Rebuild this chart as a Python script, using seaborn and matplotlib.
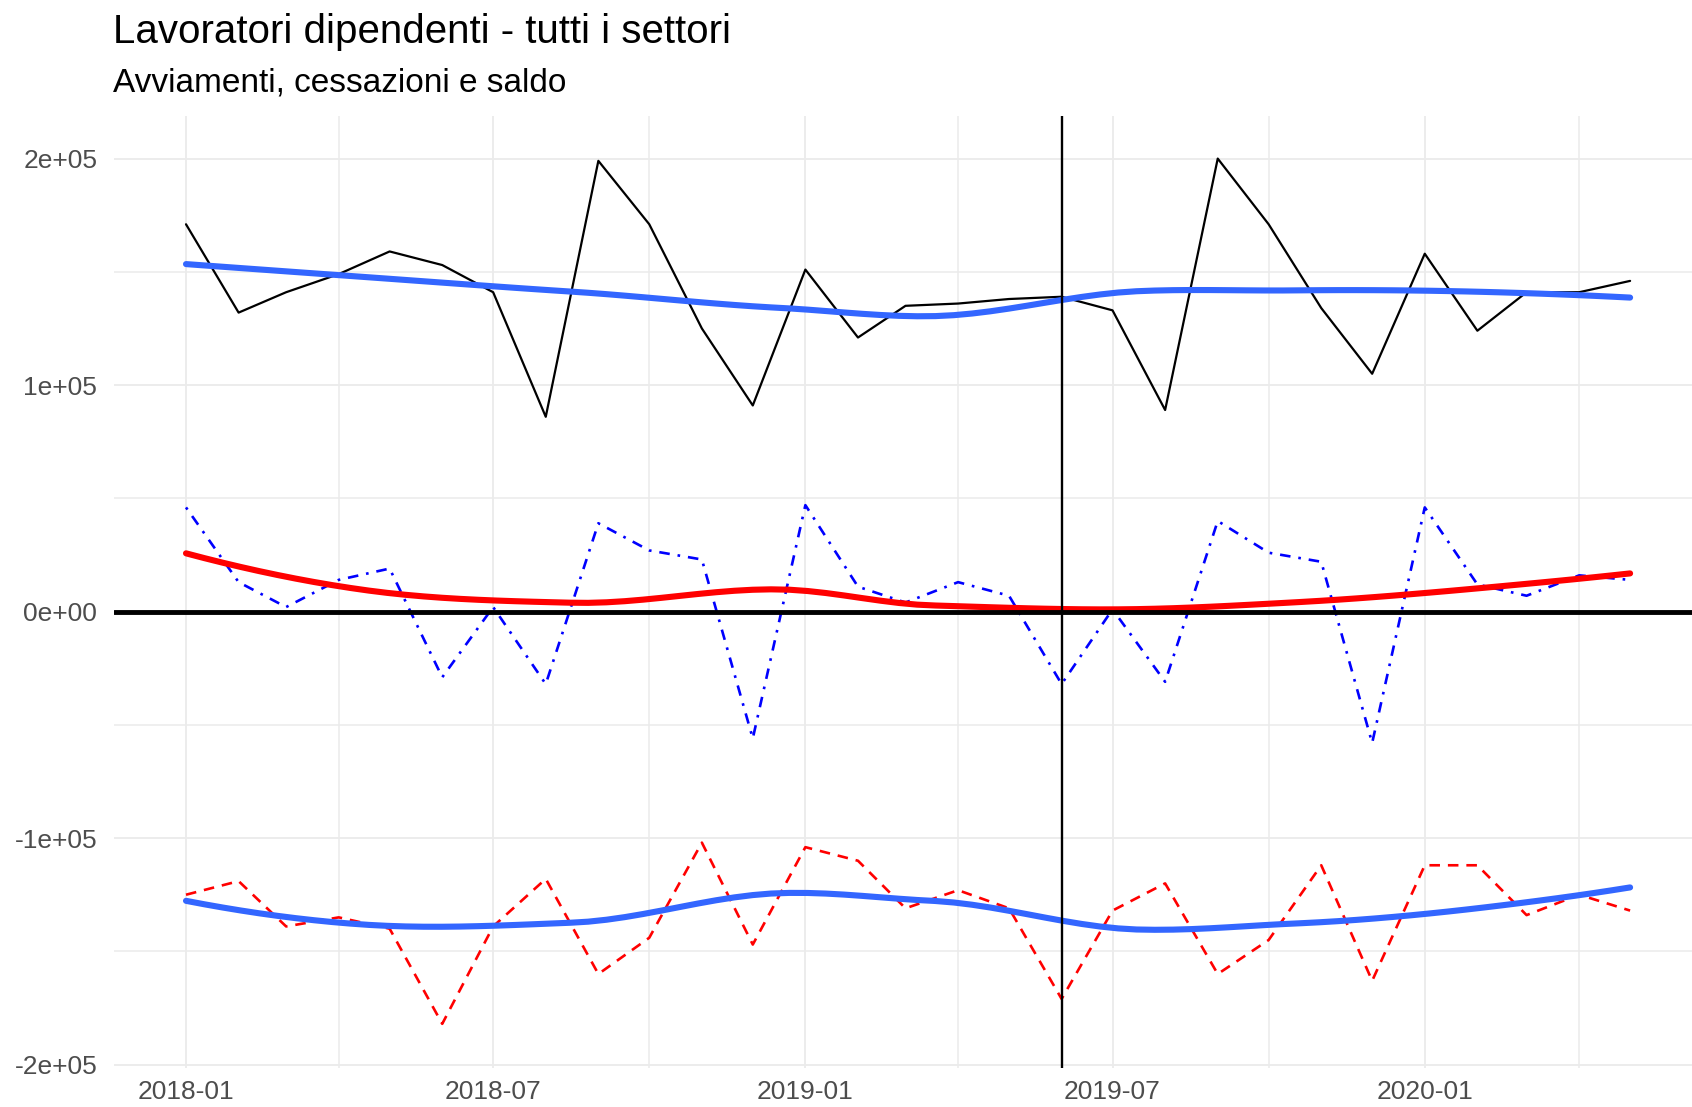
import numpy as np
import pandas as pd
import matplotlib
matplotlib.use("Agg")
import matplotlib.pyplot as plt
import matplotlib.dates as mdates
import matplotlib.ticker as mticker
import seaborn as sns

# monthly data, 2018-01 .. 2020-05
months = pd.date_range("2018-01-01", "2020-05-01", freq="MS")
avviamenti = [171, 132, 141, 149, 159, 153, 141, 86, 199, 171, 125, 91, 151, 121, 135,
              136, 138, 139, 133, 89, 200, 171, 134, 105, 158, 124, 141, 141, 146]
cessazioni = [-125, -119, -139, -135, -140, -182, -139, -118, -160, -144, -102, -147, -104, -110, -131,
              -123, -131, -171, -132, -120, -160, -145, -112, -163, -112, -112, -134, -125, -132]
avviamenti = np.array(avviamenti) * 1000.0
cessazioni = np.array(cessazioni) * 1000.0
saldo = avviamenti + cessazioni
cutoff = pd.Timestamp("2019-06-01")

title = "Lavoratori dipendenti - tutti i settori"
subtitle = "Avviamenti, cessazioni e saldo"


def local_fit(x, y, x0, q):
    # local quadratic fit with tricube weights, returns value and slope at x0
    d = np.abs(x - x0)
    h = np.sort(d)[q - 1]
    w = np.clip(1 - (d / h) ** 3, 0, None) ** 3
    X = np.vstack([np.ones(len(x)), x - x0, (x - x0) ** 2]).T
    sw = np.sqrt(w)
    beta = np.linalg.lstsq(X * sw[:, None], y * sw, rcond=None)[0]
    return beta[0], beta[1]


def loess(x, y, xnew, span=0.75, cell=0.2):
    # R-style loess: fit at kd-tree vertices, cubic hermite in between
    n = len(x)
    q = int(np.floor(n * span))
    fc = int(np.floor(n * span * cell))
    xs = np.sort(x)
    mu = 0.005 * (xs[-1] - xs[0])
    verts = {xs[0] - mu, xs[-1] + mu}

    def split(l, u):
        if u - l + 1 <= fc:
            return
        m = (l + u + 2) // 2 - 1
        verts.add((xs[m] + xs[m + 1]) / 2)
        split(l, m)
        split(m + 1, u)

    split(0, n - 1)
    verts = np.array(sorted(verts))
    vals = np.array([local_fit(x, y, v, q) for v in verts])
    out = []
    for x0 in xnew:
        k = min(np.searchsorted(verts, x0, side="right") - 1, len(verts) - 2)
        h = verts[k + 1] - verts[k]
        t = (x0 - verts[k]) / h
        h00 = 2 * t**3 - 3 * t**2 + 1
        h10 = t**3 - 2 * t**2 + t
        h01 = -2 * t**3 + 3 * t**2
        h11 = t**3 - t**2
        out.append(h00 * vals[k, 0] + h10 * h * vals[k, 1]
                   + h01 * vals[k + 1, 0] + h11 * h * vals[k + 1, 1])
    return np.array(out)


days = ((months - months[0]).days).values.astype(float)
grid_days = np.linspace(days.min(), days.max(), 80)
grid_dates = months[0] + pd.to_timedelta(grid_days, unit="D")

df = pd.DataFrame({"mese": months, "avviamenti": avviamenti,
                   "cessazioni": cessazioni, "saldo": saldo})
smooth = pd.DataFrame({"mese": grid_dates,
                       "avviamenti": loess(days, avviamenti, grid_days),
                       "cessazioni": loess(days, cessazioni, grid_days),
                       "saldo": loess(days, saldo, grid_days)})

sns.set_theme(style="whitegrid")
plt.rcParams["font.family"] = ["Liberation Sans", "DejaVu Sans"]

fig = plt.figure(figsize=(16.92, 11.07), dpi=100)
ax = fig.add_axes([113.8 / 1692, 1 - 1068 / 1107, 1588.5 / 1692, (1068 - 116) / 1107])

sns.lineplot(data=df, x="mese", y="avviamenti", color="black", linewidth=1.6, ax=ax)
sns.lineplot(data=df, x="mese", y="cessazioni", color="red", linewidth=1.9,
             linestyle=(0, (4, 3)), ax=ax)
sns.lineplot(data=df, x="mese", y="saldo", color="blue", linewidth=1.9,
             linestyle=(0, (1, 3, 4, 3)), ax=ax)

sns.lineplot(data=smooth, x="mese", y="avviamenti", color="#3366FF", linewidth=4.4, ax=ax)
sns.lineplot(data=smooth, x="mese", y="cessazioni", color="#3366FF", linewidth=4.4, ax=ax)
sns.lineplot(data=smooth, x="mese", y="saldo", color="red", linewidth=4.4, ax=ax)

ax.axhline(0, color="black", linewidth=3.5)
ax.axvline(cutoff, color="black", linewidth=1.7)

# axis limits with 5% expansion on x
span_days = (months[-1] - months[0]).days * 0.05
ax.set_xlim(months[0] - pd.Timedelta(days=span_days), months[-1] + pd.Timedelta(days=span_days))
ax.set_ylim(-201500, 218800)

ax.xaxis.set_major_locator(mdates.MonthLocator(bymonth=[1, 7]))
ax.xaxis.set_minor_locator(mdates.MonthLocator(bymonth=[4, 10]))
ax.xaxis.set_major_formatter(mdates.DateFormatter("%Y-%m"))
ax.yaxis.set_major_locator(mticker.FixedLocator([-2e5, -1e5, 0, 1e5, 2e5]))
ax.yaxis.set_minor_locator(mticker.FixedLocator([-1.5e5, -5e4, 5e4, 1.5e5]))
ax.yaxis.set_major_formatter(mticker.FuncFormatter(
    lambda v, p: {-2e5: "-2e+05", -1e5: "-1e+05", 0: "0e+00", 1e5: "1e+05", 2e5: "2e+05"}.get(v, "")))

ax.grid(which="major", color="#EBEBEB", linewidth=1.3)
ax.grid(which="minor", color="#EBEBEB", linewidth=1.1)
for s in ax.spines.values():
    s.set_visible(False)
ax.tick_params(which="both", length=0, labelsize=19, labelcolor="#4D4D4D")
ax.tick_params(axis="y", pad=12)
ax.tick_params(axis="x", pad=8.5)
ax.set_xlabel("")
ax.set_ylabel("")

fig.text(113 / 1692, 1 - 43 / 1107, title, fontsize=29, color="black", va="baseline", ha="left")
fig.text(113 / 1692, 1 - 92 / 1107, subtitle, fontsize=24, color="black", va="baseline", ha="left")

fig.savefig("out.png", dpi=100, facecolor="white")
